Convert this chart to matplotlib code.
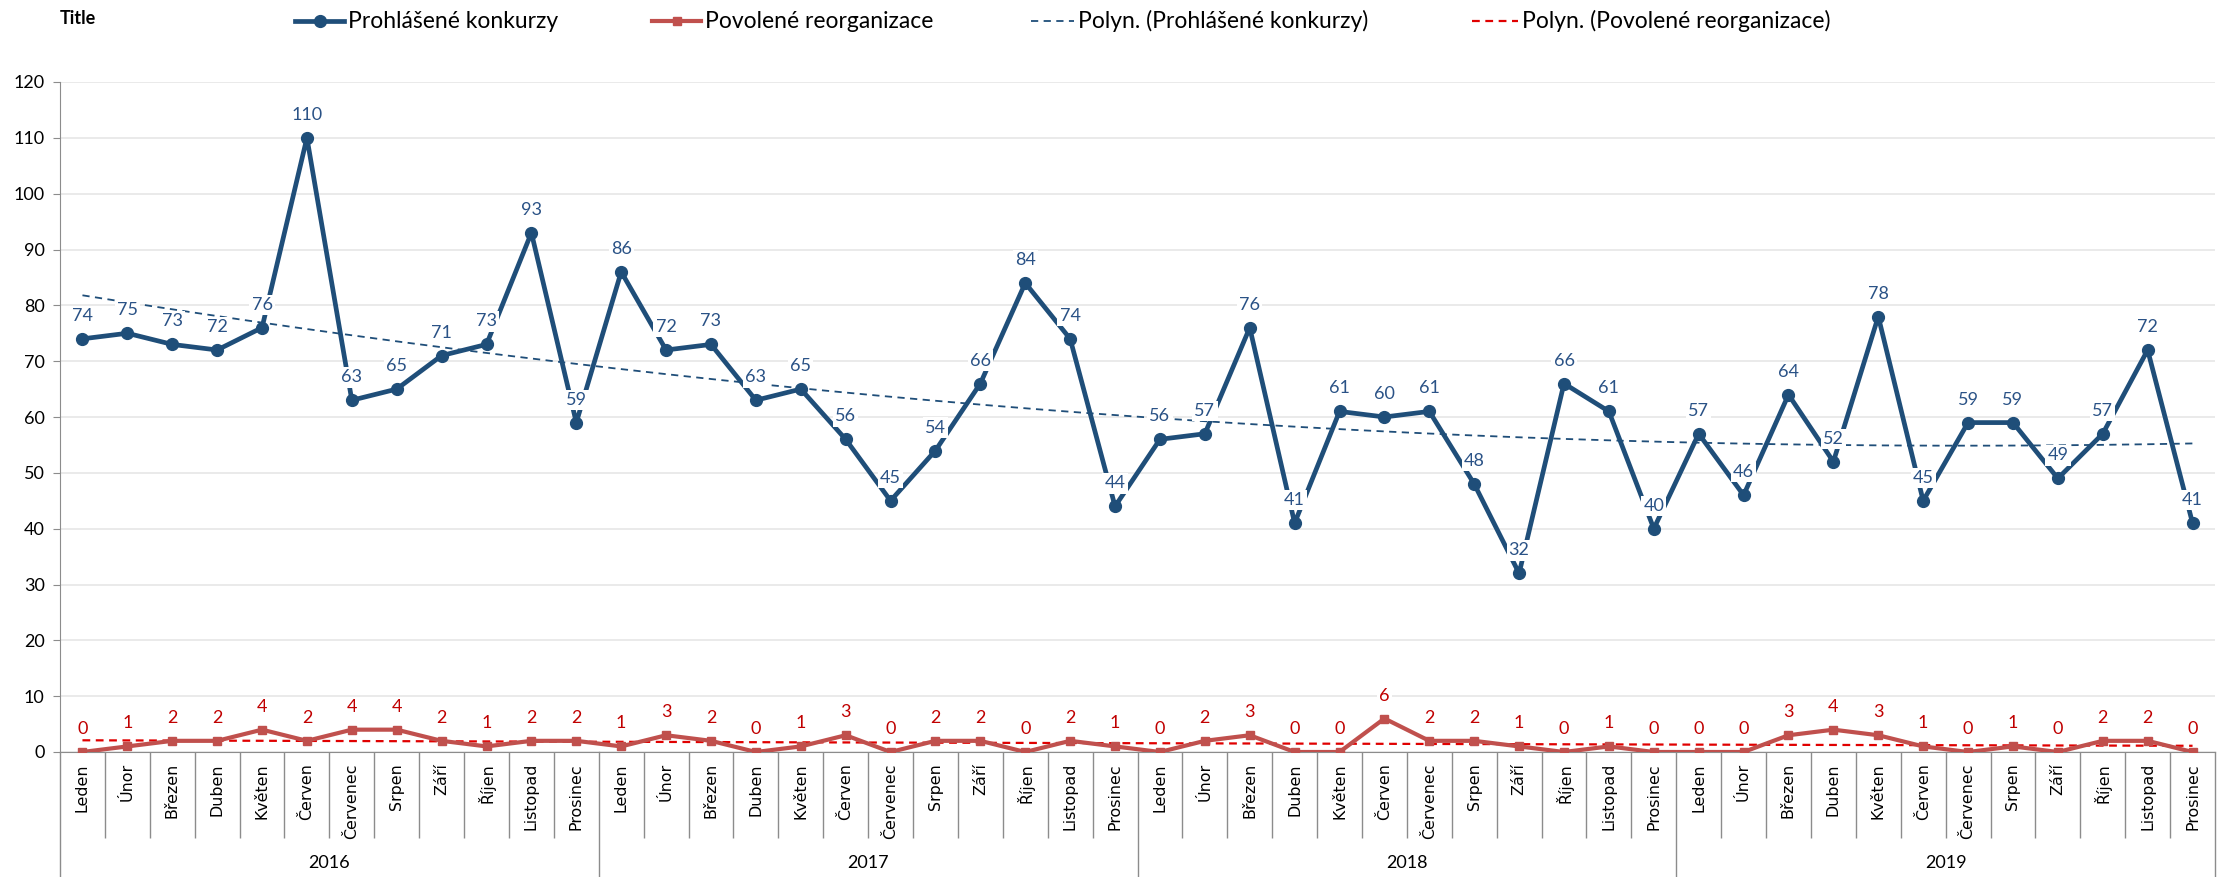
import numpy as np
import matplotlib
matplotlib.use("Agg")
import matplotlib.pyplot as plt
from matplotlib.lines import Line2D

plt.rcParams['font.family'] = ['Lato', 'DejaVu Sans']

months = ['Leden', 'Únor', 'Březen', 'Duben', 'Květen', 'Červen',
          'Červenec', 'Srpen', 'Září', 'Říjen', 'Listopad', 'Prosinec']
years = ['2016', '2017', '2018', '2019']

konkurzy = [74, 75, 73, 72, 76, 110, 63, 65, 71, 73, 93, 59,
            86, 72, 73, 63, 65, 56, 45, 54, 66, 84, 74, 44,
            56, 57, 76, 41, 61, 60, 61, 48, 32, 66, 61, 40,
            57, 46, 64, 52, 78, 45, 59, 59, 49, 57, 72, 41]
reorganizace = [0, 1, 2, 2, 4, 2, 4, 4, 2, 1, 2, 2,
                1, 3, 2, 0, 1, 3, 0, 2, 2, 0, 2, 1,
                0, 2, 3, 0, 0, 6, 2, 2, 1, 0, 1, 0,
                0, 0, 3, 4, 3, 1, 0, 1, 0, 2, 2, 0]

blue = '#1F4E79'
blue_lbl = '#2A5286'
red = '#C0504D'
red_lbl = '#C00000'
red_trend = '#E00000'
grey = '#8C8C8C'

W, H = 2221, 877
n = len(konkurzy)
x = np.arange(n)

fig = plt.figure(figsize=(W / 100, H / 100), dpi=100)
ax = fig.add_axes([60 / W, 1 - 752 / H, 2155 / W, 670 / H])

# polynomial trendlines (order 2, like Excel "Polyn.")
xf = np.linspace(0, n - 1, 200)
pk = np.polyfit(x + 1, konkurzy, 2)
pr = np.polyfit(x + 1, reorganizace, 2)
blue_trend_style = dict(color=blue, lw=1.3, ls=(0, (4, 3)))
red_trend_style = dict(color=red_trend, lw=1.6, ls=(0, (3.5, 2.5)))
ax.plot(xf, np.polyval(pk, xf + 1), zorder=2, **blue_trend_style)
ax.plot(xf, np.polyval(pr, xf + 1), zorder=2, **red_trend_style)

blue_style = dict(color=blue, lw=3.4, marker='o', ms=8.5)
red_style = dict(color=red, lw=3.0, marker='s', ms=6)
ax.plot(x, konkurzy, zorder=3, **blue_style)
ax.plot(x, reorganizace, zorder=3, **red_style)

for xi, v in zip(x, konkurzy):
    ax.annotate(str(v), (xi, v), xytext=(0, 16.5), textcoords='offset points',
                ha='center', va='center', fontsize=13, color=blue_lbl, zorder=5,
                bbox=dict(fc='white', ec='none', pad=1.5))
for xi, v in zip(x, reorganizace):
    ax.annotate(str(v), (xi, v), xytext=(0, 16.5), textcoords='offset points',
                ha='center', va='center', fontsize=13, color=red_lbl, zorder=5,
                bbox=dict(fc='white', ec='none', pad=1.5))

ax.set_xlim(-0.5, n - 0.5)
ax.set_ylim(0, 120)
ax.set_yticks(np.arange(0, 121, 10))
ax.grid(axis='y', color='#E6E6E6', lw=1.2, zorder=0)
ax.set_axisbelow(True)

for s in ['top', 'right']:
    ax.spines[s].set_visible(False)
ax.spines['left'].set_color(grey)
ax.spines['bottom'].set_color(grey)
ax.spines['left'].set_bounds(0, 120)

ax.tick_params(axis='y', length=5, color=grey, labelsize=13, pad=6)

ax.set_xticks(x)
ax.set_xticklabels(months * 4, rotation=90, family='DejaVu Sans', fontsize=11.4)
ax.tick_params(axis='x', which='major', length=0, pad=8)
bounds = [b - 0.5 for b in range(1, n) if b % 12 != 0]
ax.set_xticks(bounds, minor=True)
ax.tick_params(axis='x', which='minor', length=62, color=grey, width=1)

# year separators and labels
for b in range(0, n + 1, 12):
    ax.plot([b - 0.5, b - 0.5], [0, -125 / 670], transform=ax.get_xaxis_transform(),
            color=grey, lw=1, clip_on=False)
for i, yr in enumerate(years):
    ax.annotate(yr, (i * 12 + 5.5, 0), xycoords=('data', 'axes fraction'),
                xytext=(0, -80), textcoords='offset points',
                ha='center', va='center', fontsize=13)

fig.text(60 / W, 1 - 18 / H, 'Title', fontsize=13, fontweight='bold',
         ha='left', va='center')

# legend row at the top, laid out like the Excel one
legend_items = [
    ('Prohlášené konkurzy', blue_style, 295, 49),
    ('Povolené reorganizace', red_style, 652, 49),
    ('Polyn. (Prohlášené konkurzy)', blue_trend_style, 1031, 43),
    ('Polyn. (Povolené reorganizace)', red_trend_style, 1472, 46),
]
ly = 1 - 21 / H
for label, style, x0, hl in legend_items:
    st = dict(style)
    mk = st.pop('marker', None)
    ms = st.pop('ms', None)
    fig.add_artist(Line2D([x0 / W, (x0 + hl) / W], [ly, ly], transform=fig.transFigure, **st))
    if mk:
        fig.add_artist(Line2D([(x0 + hl / 2) / W], [ly], transform=fig.transFigure,
                              color=st['color'], marker=mk, ms=ms, lw=0))
    fig.text((x0 + hl + 4) / W, ly, label, fontsize=16.5, ha='left', va='center')

fig.savefig('out.png', dpi=100)
